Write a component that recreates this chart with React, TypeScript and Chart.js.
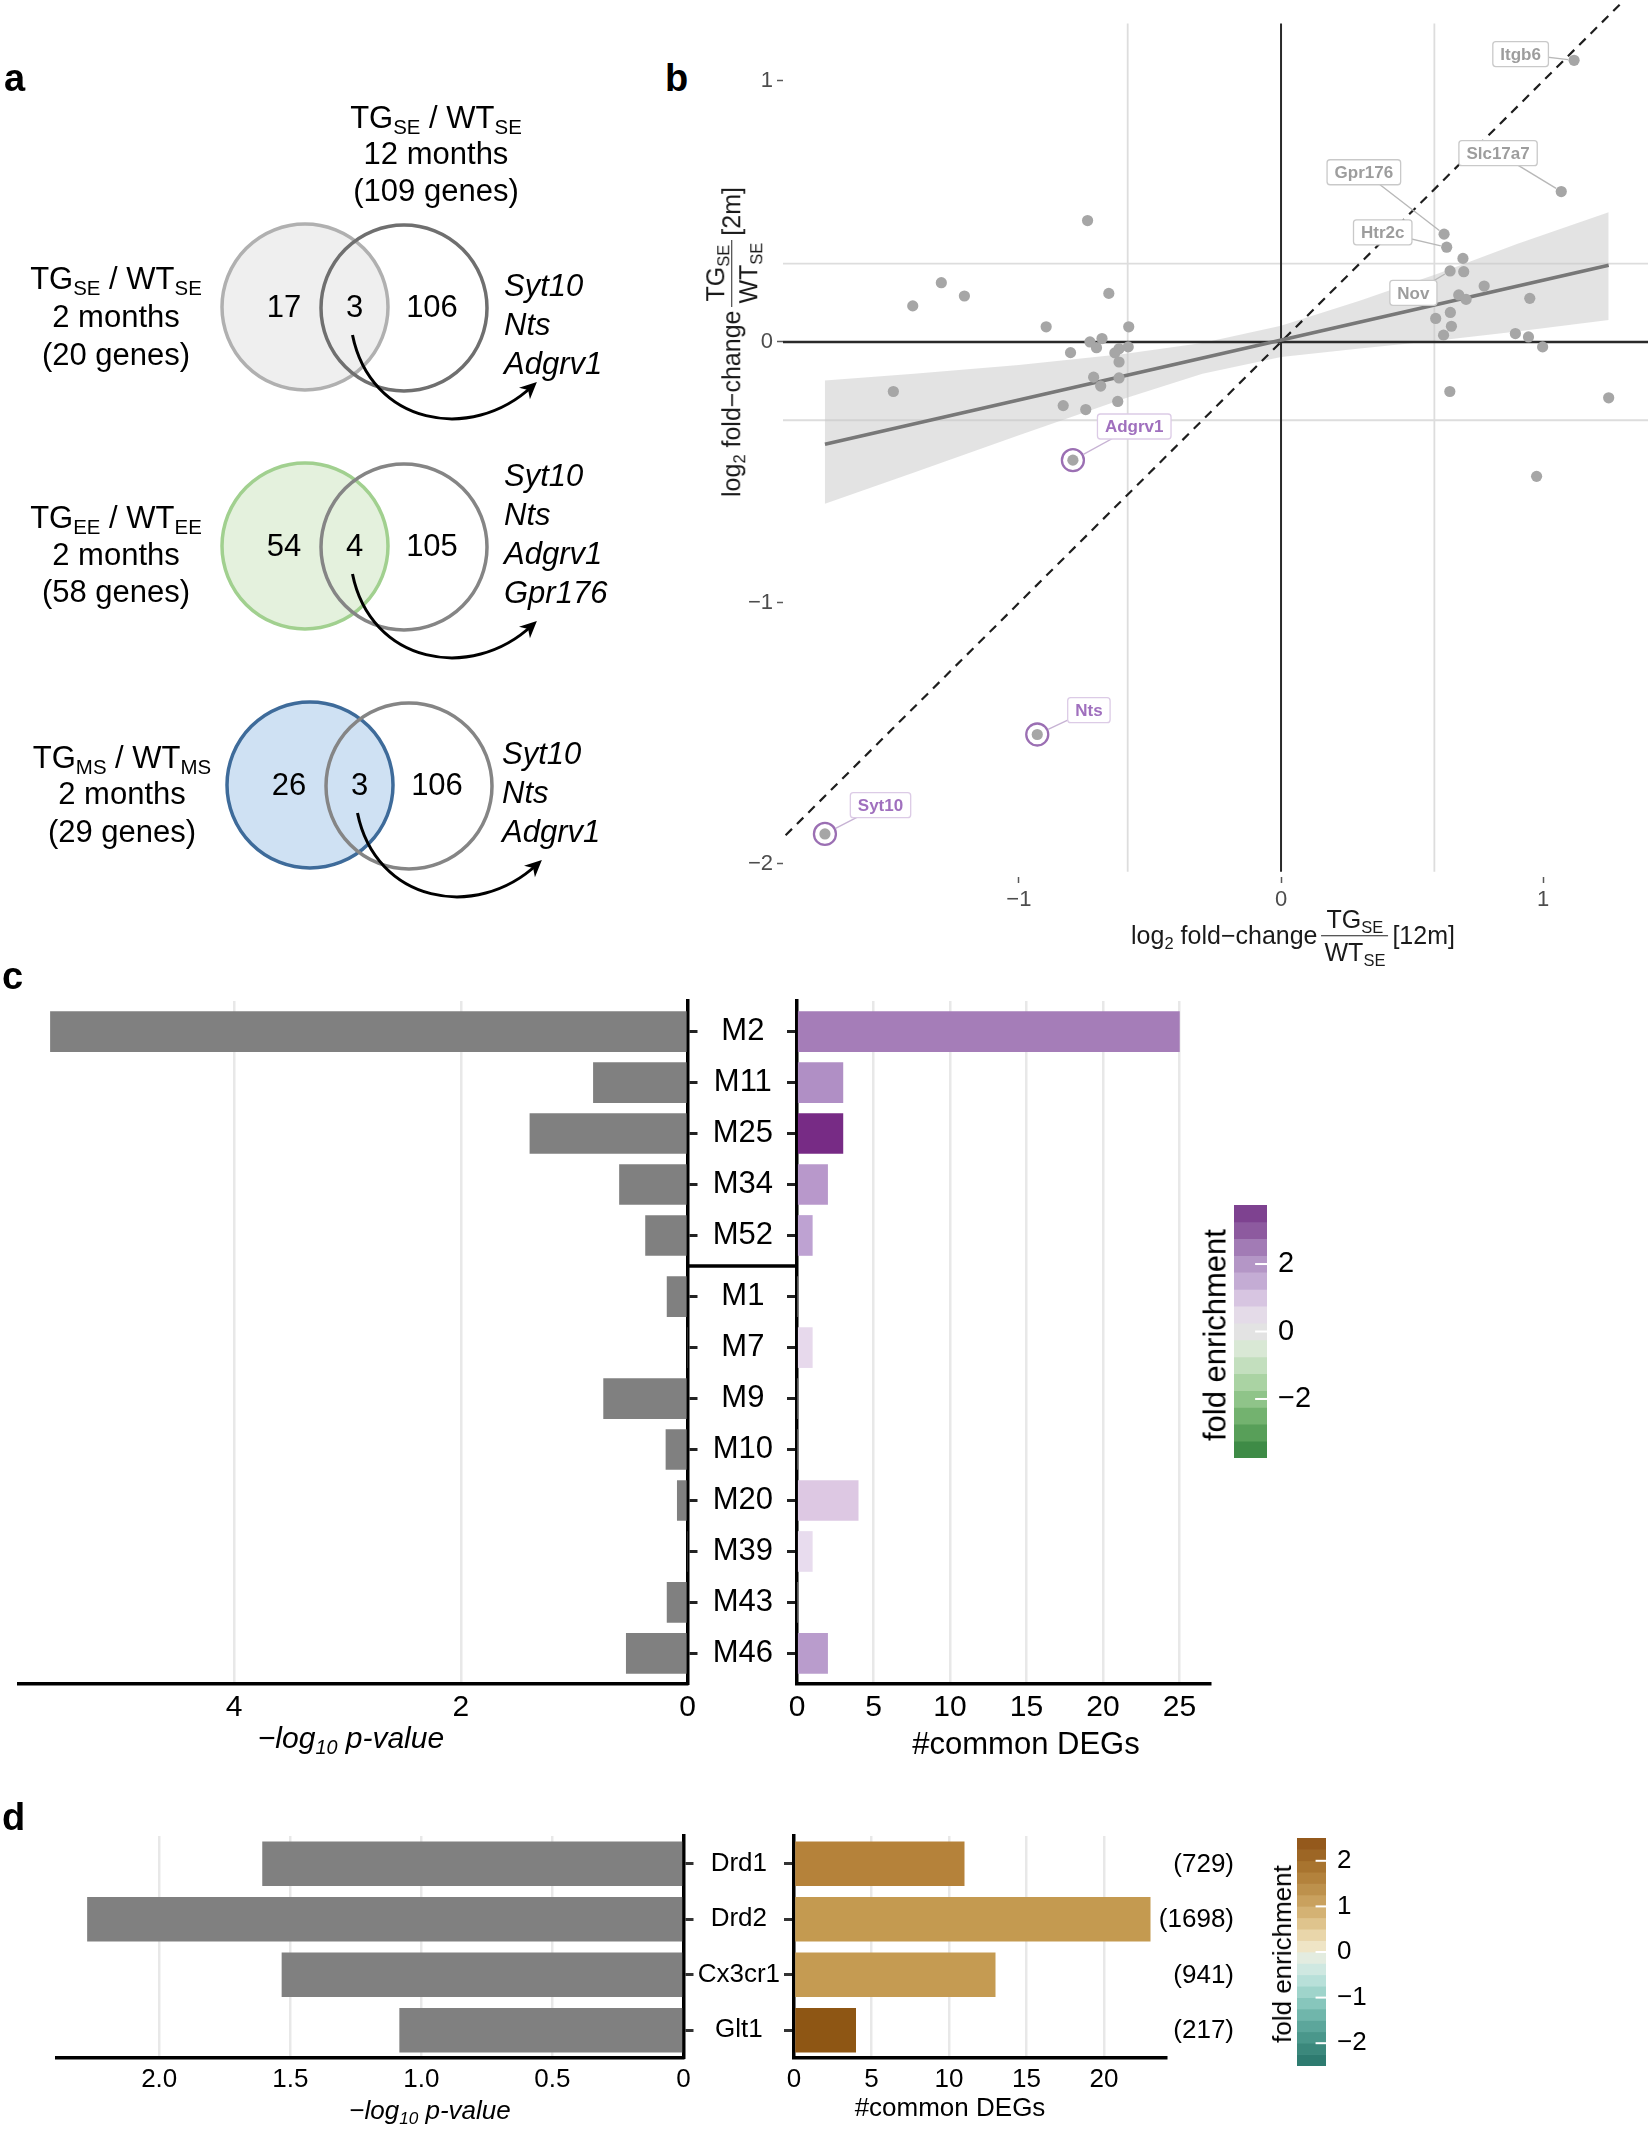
import React, { useEffect, useRef } from 'react';
import { Chart, registerables } from 'chart.js';

Chart.register(...registerables);

const SANS = "'Liberation Sans', Arial, Helvetica, sans-serif";
Chart.defaults.font.family = SANS;
const MINUS = '\u2212';

/* ---------------- panel a : Venn data ---------------- */
const vennGroups = ['SE', 'EE', 'MS'];
const vennMonths = [2, 2, 2];
const vennTotals = [20, 58, 29];
const vennOnlyLeft = [17, 54, 26];
const vennShared = [3, 4, 3];
const vennOnlyRight = [106, 105, 106];
const vennGenes = [
  ['Syt10', 'Nts', 'Adgrv1'],
  ['Syt10', 'Nts', 'Adgrv1', 'Gpr176'],
  ['Syt10', 'Nts', 'Adgrv1'],
];
const refGroup = 'SE';
const refMonths = 12;
const refTotal = 109;

/* ---------------- panel b : scatter data ---------------- */
const labelGenes = ['Itgb6', 'Slc17a7', 'Gpr176', 'Htr2c', 'Nov', 'Adgrv1', 'Nts', 'Syt10'];
const labelGeneX = [1.118, 1.069, 0.622, 0.632, 0.645, -0.794, -0.93, -1.74];
const labelGeneY = [1.079, 0.576, 0.413, 0.363, 0.272, -0.453, -1.504, -1.885];
const highlightedGenes = ['Adgrv1', 'Nts', 'Syt10'];
const otherGeneX = [
  0.694, 0.697, 0.775, 0.678, 0.706, 0.949, 0.59, 0.646, 0.65, 0.62, 0.894, 0.944, 0.998, 0.644, 1.25, 0.975,
  -0.738, -1.296, -1.208, -1.405, -0.657, -0.896, -0.581, -0.683, -0.729, -0.803, -0.704, -0.618, -0.583,
  -0.634, -0.618, -0.715, -0.688, -0.618, -1.479, -0.831, -0.745, -0.623,
];
const otherGeneY = [
  0.32, 0.269, 0.214, 0.18, 0.163, 0.167, 0.09, 0.113, 0.06, 0.026, 0.032, 0.019, -0.019, -0.19, -0.214, -0.515,
  0.465, 0.227, 0.176, 0.138, 0.186, 0.058, 0.058, 0.013, 0, -0.041, -0.022, -0.026, -0.019,
  -0.042, -0.077, -0.135, -0.169, -0.138, -0.19, -0.244, -0.259, -0.228,
];
const fitX = [-1.74, 1.25];
const fitY = [-0.392, 0.294];
const bandX = [-1.74, -1.4, -1.0, -0.6, -0.3, 0, 0.3, 0.6, 0.9, 1.25];
const bandUpper = [-0.148, -0.122, -0.088, -0.046, -0.004, 0.062, 0.158, 0.262, 0.375, 0.497];
const bandLower = [-0.62, -0.5, -0.358, -0.218, -0.122, -0.058, -0.025, 0.005, 0.04, 0.084];
const identityX = [-1.89, 1.31];
const foldThresholdX = [-0.585, 0.585];
const foldThresholdY = [-0.3, 0.3];
const xTicksB = [-1, 0, 1];
const yTicksB = [-2, -1, 0, 1];

/* ---------------- panel c : modules ---------------- */
const modules = ['M2', 'M11', 'M25', 'M34', 'M52', 'M1', 'M7', 'M9', 'M10', 'M20', 'M39', 'M43', 'M46'];
const moduleGroupSizes = [5, 8];
const modulePValue = [5.62, 0.83, 1.39, 0.6, 0.37, 0.18, 0, 0.74, 0.19, 0.09, 0, 0.18, 0.54];
const moduleCommonDEGs = [25, 3, 3, 2, 1, 0, 1, 0, 0, 4, 1, 0, 2];
const moduleFoldColor = ['#a57db8', '#b08fc5', '#772b85', '#b898cb', '#bea2d2', '#ffffff', '#e7d9ec',
  '#ffffff', '#ffffff', '#ddc8e3', '#e8dcee', '#ffffff', '#b99ccc'];
const pTicksC = [0, 2, 4];
const degTicksC = [0, 5, 10, 15, 20, 25];
const foldTicksC = [-2, 0, 2];

/* ---------------- panel d : cell types ---------------- */
const cellTypes = ['Drd1', 'Drd2', 'Cx3cr1', 'Glt1'];
const cellPValue = [1.607, 2.275, 1.533, 1.084];
const cellCommonDEGs = [11, 23, 13, 4];
const cellSetSize = [729, 1698, 941, 217];
const cellFoldColor = ['#b5823a', '#c49a50', '#c59b52', '#8e5614'];
const pTicksD = [0, 0.5, 1, 1.5, 2];
const degTicksD = [0, 5, 10, 15, 20];
const foldTicksD = [-2, -1, 0, 1, 2];

/* ---------------- colour-bar palettes (top to bottom) ---------------- */
const paletteC = ['#7e4290', '#8d5a9f', '#a27bb5', '#b496c6', '#c4acd4', '#d7c5e1', '#e4dbe8', '#e3e3e3',
  '#d9e8d5', '#c3dfbe', '#aad3a3', '#8fc489', '#73b26f', '#589f59', '#3e8b46'];
const paletteD = ['#94591c', '#9d6625', '#a8742f', '#b3823c', '#bd914c', '#c9a15e', '#d4b274', '#dfc48d',
  '#e9d6aa', '#efe5c6', '#e3ece0', '#cfe8e1', '#b8e0d9', '#9fd4cb', '#87c6bc', '#70b6ab', '#5ca69b',
  '#4a978b', '#3b887c', '#2e7b70'];

/* ---------------- layout constants (page pixels) ---------------- */
const VENN_CY = [307, 546, 785];
const VENN_CXL = [305, 305, 310];
const VENN_GAP = 99;
const VENN_R = 83;
const VENN_FILL = ['#efefef', '#e4f1dd', '#cfe1f3'];
const VENN_EDGE = ['#b0b0b0', '#a1d08f', '#3e6b9a'];
const VENN_REF_EDGE = ['#6f6f6f', '#858585', '#858585'];
const ARROW_SHAPE = [[-2, 28], [16, 117], [116, 137], [178, 79]];
const LABEL_BOX_X = [0.914, 0.828, 0.316, 0.388, 0.505, -0.56, -0.733, -1.528];
const LABEL_BOX_Y = [1.103, 0.723, 0.65, 0.42, 0.188, -0.324, -1.411, -1.775];

const fmtMinus = (v: number) => (v < 0 ? MINUS + String(Math.abs(v)) : String(v));
const setTicks = (vals: number[]) => (scale: any) => {
  scale.ticks = vals.map((v) => ({ value: v }));
};
const fixW = (w: number) => (s: any) => {
  s.width = w;
  s.paddingTop = 0;
  s.paddingBottom = 0;
};
const fixH = (h: number) => (s: any) => {
  s.height = h;
  s.paddingLeft = 0;
  s.paddingRight = 0;
};

/* ---------------- plugins ---------------- */
const arrowPlugin = {
  id: 'vennArrows',
  afterDatasetsDraw(chart: any) {
    const { ctx, scales } = chart;
    const x = scales.x;
    const y = scales.y;
    ctx.save();
    VENN_CY.forEach((cy, i) => {
      const mid = VENN_CXL[i] + VENN_GAP / 2;
      const p = ARROW_SHAPE.map(([dx, dy]) => [x.getPixelForValue(mid + dx), y.getPixelForValue(cy + dy)]);
      ctx.strokeStyle = '#000';
      ctx.lineWidth = 3;
      ctx.beginPath();
      ctx.moveTo(p[0][0], p[0][1]);
      ctx.bezierCurveTo(p[1][0], p[1][1], p[2][0], p[2][1], p[3][0], p[3][1]);
      ctx.stroke();
      const dx = p[3][0] - p[2][0];
      const dy = p[3][1] - p[2][1];
      const l = Math.hypot(dx, dy);
      const ux = dx / l;
      const uy = dy / l;
      const tx = p[3][0] + ux * 6;
      const ty = p[3][1] + uy * 6;
      ctx.fillStyle = '#000';
      ctx.beginPath();
      ctx.moveTo(tx, ty);
      ctx.lineTo(tx - ux * 17 - uy * 8, ty - uy * 17 + ux * 8);
      ctx.lineTo(tx - ux * 12, ty - uy * 12);
      ctx.lineTo(tx - ux * 17 + uy * 8, ty - uy * 17 - ux * 8);
      ctx.closePath();
      ctx.fill();
    });
    ctx.restore();
  },
};

const geneLabelPlugin = {
  id: 'geneLabels',
  afterDatasetsDraw(chart: any) {
    const { ctx, scales } = chart;
    const x = scales.x;
    const y = scales.y;
    ctx.save();
    ctx.font = `bold 17px ${SANS}`;
    labelGenes.forEach((name, i) => {
      const hl = highlightedGenes.includes(name);
      const px = x.getPixelForValue(labelGeneX[i]);
      const py = y.getPixelForValue(labelGeneY[i]);
      const bx = x.getPixelForValue(LABEL_BOX_X[i]);
      const by = y.getPixelForValue(LABEL_BOX_Y[i]);
      const w = ctx.measureText(name).width + 15;
      const h = 25;
      const dx = px - bx;
      const dy = py - by;
      const len = Math.hypot(dx, dy) || 1;
      const stop = hl ? 12 : 6;
      ctx.strokeStyle = hl ? '#c7b3d4' : '#b8b8b8';
      ctx.lineWidth = 1.4;
      ctx.beginPath();
      ctx.moveTo(bx, by);
      ctx.lineTo(px - (dx / len) * stop, py - (dy / len) * stop);
      ctx.stroke();
      ctx.fillStyle = '#ffffff';
      ctx.strokeStyle = hl ? '#dccbe6' : '#c9c9c9';
      ctx.lineWidth = 1.3;
      ctx.beginPath();
      if (ctx.roundRect) ctx.roundRect(bx - w / 2, by - h / 2, w, h, 3);
      else ctx.rect(bx - w / 2, by - h / 2, w, h);
      ctx.fill();
      ctx.stroke();
      ctx.fillStyle = hl ? '#a070be' : '#9d9d9d';
      ctx.textAlign = 'center';
      ctx.textBaseline = 'middle';
      ctx.fillText(name, bx, by + 1);
    });
    ctx.restore();
  },
};

const separatorPlugin = {
  id: 'facetSeparator',
  afterDraw(chart: any) {
    const { ctx, scales, chartArea } = chart;
    const yy = scales.y.getPixelForValue(moduleGroupSizes[0] + 0.2);
    ctx.save();
    ctx.strokeStyle = '#000';
    ctx.lineWidth = 3.5;
    ctx.beginPath();
    ctx.moveTo(0, yy);
    ctx.lineTo(chartArea.left, yy);
    ctx.stroke();
    ctx.restore();
  },
};

const setSizePlugin = {
  id: 'setSizes',
  afterDraw(chart: any) {
    const { ctx, scales, chartArea } = chart;
    ctx.save();
    ctx.font = `26px ${SANS}`;
    ctx.fillStyle = '#000';
    ctx.textAlign = 'right';
    ctx.textBaseline = 'middle';
    cellTypes.forEach((_, i) => {
      ctx.fillText(`(${cellSetSize[i]})`, chartArea.right + 68, scales.y.getPixelForValue(i) + 1);
    });
    ctx.restore();
  },
};

const whiteTickPlugin = {
  id: 'whiteTicks',
  afterDatasetsDraw(chart: any) {
    const { ctx, scales, chartArea } = chart;
    const w = chartArea.right - chartArea.left;
    ctx.save();
    ctx.strokeStyle = '#ffffff';
    ctx.lineWidth = 2;
    scales.y.ticks.forEach((t: any) => {
      const yy = scales.y.getPixelForValue(t.value);
      ctx.beginPath();
      ctx.moveTo(chartArea.right - w * 0.36, yy);
      ctx.lineTo(chartArea.right, yy);
      ctx.stroke();
    });
    ctx.restore();
  },
};

/* ---------------- chart configs ---------------- */
const baseOpts = () => ({
  responsive: true,
  maintainAspectRatio: false,
  animation: false,
  events: [],
  plugins: { legend: { display: false }, tooltip: { enabled: false }, title: { display: false } },
});

function vennConfig(): any {
  const datasets: any[] = [];
  VENN_CY.forEach((cy, i) => {
    datasets.push({
      data: [{ x: VENN_CXL[i] + VENN_GAP, y: cy + 1 }],
      pointRadius: VENN_R,
      pointBackgroundColor: 'rgba(0,0,0,0)',
      pointBorderColor: VENN_REF_EDGE[i],
      pointBorderWidth: 3.5,
      order: 0,
    });
    datasets.push({
      data: [{ x: VENN_CXL[i], y: cy }],
      pointRadius: VENN_R,
      pointBackgroundColor: VENN_FILL[i],
      pointBorderColor: VENN_EDGE[i],
      pointBorderWidth: 3.5,
      order: 1,
    });
  });
  return {
    type: 'scatter',
    data: { datasets },
    options: {
      ...baseOpts(),
      layout: { padding: 0, autoPadding: false },
      scales: {
        x: { type: 'linear', display: false, min: 0, max: 660 },
        y: { type: 'linear', display: false, min: 0, max: 940, reverse: true },
      },
    },
    plugins: [arrowPlugin],
  };
}

function scatterConfig(): any {
  const allX = [...labelGeneX, ...otherGeneX];
  const allY = [...labelGeneY, ...otherGeneY];
  const hl = labelGenes.map((g, i) => (highlightedGenes.includes(g) ? { x: labelGeneX[i], y: labelGeneY[i] } : null)).filter(Boolean);
  const lineDs = (data: any[], color: string, width: number, order: number, dash: number[] = []) => ({
    type: 'line',
    data,
    borderColor: color,
    borderWidth: width,
    borderDash: dash,
    pointRadius: 0,
    fill: false,
    order,
  });
  const datasets: any[] = [
    { type: 'line', data: hl, showLine: false, pointRadius: 11, pointBackgroundColor: 'rgba(0,0,0,0)', pointBorderColor: '#9b6fb3', pointBorderWidth: 2.3, order: 0 },
    { type: 'line', data: allX.map((v, i) => ({ x: v, y: allY[i] })), showLine: false, pointRadius: 5.6, pointBackgroundColor: '#a6a6a6', pointBorderWidth: 0, order: 1 },
    lineDs(fitX.map((v, i) => ({ x: v, y: fitY[i] })), '#787878', 3.5, 2),
    lineDs(identityX.map((v) => ({ x: v, y: v })), '#1e1e1e', 2.2, 3, [9, 7]),
    lineDs([{ x: 0, y: -2.03 }, { x: 0, y: 1.22 }], '#2a2a2a', 2, 4),
    lineDs([{ x: -1.9, y: 0 }, { x: 1.4, y: 0 }], '#2a2a2a', 2.4, 4),
    {
      type: 'line', data: bandX.map((v, i) => ({ x: v, y: bandUpper[i] })), borderColor: 'rgba(0,0,0,0)', pointRadius: 0,
      fill: '+1', backgroundColor: 'rgba(200,200,200,0.5)', order: 5,
    },
    { type: 'line', data: bandX.map((v, i) => ({ x: v, y: bandLower[i] })), borderColor: 'rgba(0,0,0,0)', pointRadius: 0, fill: false, order: 5 },
    ...foldThresholdX.map((t) => lineDs([{ x: t, y: -2.03 }, { x: t, y: 1.22 }], '#dddddd', 1.8, 6)),
    ...foldThresholdY.map((t) => lineDs([{ x: -1.9, y: t }, { x: 1.4, y: t }], '#dddddd', 1.8, 6)),
  ];
  const tickFont = { size: 22, family: SANS };
  return {
    type: 'line',
    data: { datasets },
    options: {
      ...baseOpts(),
      layout: { padding: { left: 0, right: 2, top: 0, bottom: 0 }, autoPadding: false },
      scales: {
        x: {
          type: 'linear', min: -1.9, max: 1.4,
          afterBuildTicks: setTicks(xTicksB),
          afterFit: fixH(83),
          ticks: { font: tickFont, color: '#4d4d4d', padding: 4, callback: (v: number) => fmtMinus(v) },
          grid: { display: true, drawOnChartArea: false, drawTicks: true, tickLength: 6, tickColor: '#5a5a5a', tickWidth: 1.5 },
          border: { display: false },
        },
        y: {
          type: 'linear', min: -2.05, max: 1.31,
          afterBuildTicks: setTicks(yTicksB),
          afterFit: fixW(93),
          ticks: { font: tickFont, color: '#4d4d4d', padding: 4, callback: (v: number) => fmtMinus(v) },
          grid: { display: true, drawOnChartArea: false, drawTicks: true, tickLength: 6, tickColor: '#5a5a5a', tickWidth: 1.5 },
          border: { display: false },
        },
      },
    },
    plugins: [geneLabelPlugin],
  };
}

const rowPos = modules.map((_, i) =>
  i < moduleGroupSizes[0] ? 0.6 + i : moduleGroupSizes[0] + 0.2 + 0.6 + (i - moduleGroupSizes[0]),
);
const rowMax = moduleGroupSizes[0] + 0.2 + moduleGroupSizes[1] + 0.2;

const gridColor = (ctx: any) => (ctx.tick && ctx.tick.value === 0 ? 'rgba(0,0,0,0)' : '#e8e8e8');

function moduleLeftConfig(): any {
  return {
    type: 'bar',
    data: {
      datasets: [{
        data: modules.map((_, i) => ({ x: modulePValue[i], y: rowPos[i] })),
        backgroundColor: '#808080', borderWidth: 0, barThickness: 40,
      }],
    },
    options: {
      ...baseOpts(),
      indexAxis: 'y',
      layout: { padding: { left: 18.7, top: 11, right: 0, bottom: 0 }, autoPadding: false },
      scales: {
        x: {
          type: 'linear', min: 0, max: 5.9, reverse: true,
          afterBuildTicks: setTicks(pTicksC),
          afterFit: fixH(86),
          ticks: { font: { size: 30 }, color: '#000', padding: 6 },
          grid: { color: gridColor, lineWidth: 2.5, drawTicks: false },
          border: { display: true, color: '#000', width: 3.5 },
        },
        y: {
          type: 'linear', position: 'right', min: 0, max: rowMax, reverse: true, offset: false,
          afterBuildTicks: setTicks(rowPos),
          afterFit: fixW(12.5),
          ticks: { display: false },
          grid: { offset: false, drawOnChartArea: false, drawTicks: true, tickLength: 10, tickColor: '#222', tickWidth: 3 },
          border: { display: true, color: '#000', width: 3.5 },
        },
      },
    },
  };
}

function moduleRightConfig(): any {
  return {
    type: 'bar',
    data: {
      datasets: [{
        data: modules.map((_, i) => ({ x: moduleCommonDEGs[i], y: rowPos[i] })),
        backgroundColor: moduleFoldColor, borderWidth: 0, barThickness: 40,
      }],
    },
    options: {
      ...baseOpts(),
      indexAxis: 'y',
      layout: { padding: { left: 0, top: 11, right: 17, bottom: 0 }, autoPadding: false },
      scales: {
        x: {
          type: 'linear', min: 0, max: 27,
          afterBuildTicks: setTicks(degTicksC),
          afterFit: fixH(86),
          ticks: { font: { size: 30 }, color: '#000', padding: 6 },
          grid: { color: gridColor, lineWidth: 2.5, drawTicks: false },
          border: { display: true, color: '#000', width: 3.5 },
        },
        y: {
          type: 'linear', position: 'left', min: 0, max: rowMax, reverse: true, offset: false,
          afterBuildTicks: setTicks(rowPos),
          afterFit: fixW(110),
          ticks: {
            font: { size: 31 }, color: '#000', padding: 14, crossAlign: 'center', autoSkip: false,
            callback: (_v: number, i: number) => modules[i],
          },
          grid: { offset: false, drawOnChartArea: false, drawTicks: true, tickLength: 10, tickColor: '#222', tickWidth: 3 },
          border: { display: true, color: '#000', width: 3.5 },
        },
      },
    },
    plugins: [separatorPlugin],
  };
}

function cellLeftConfig(): any {
  return {
    type: 'bar',
    data: {
      labels: cellTypes,
      datasets: [{ data: cellPValue, backgroundColor: '#808080', borderWidth: 0, barPercentage: 0.8, categoryPercentage: 1 }],
    },
    options: {
      ...baseOpts(),
      indexAxis: 'y',
      layout: { padding: { left: 57, top: 26, right: 0, bottom: 0 }, autoPadding: false },
      scales: {
        x: {
          type: 'linear', min: 0, max: 2.39, reverse: true,
          afterBuildTicks: setTicks(pTicksD),
          afterFit: fixH(75),
          ticks: { font: { size: 26 }, color: '#000', padding: 6, callback: (v: number) => (v === 0 ? '0' : v.toFixed(1)) },
          grid: { color: gridColor, lineWidth: 2.5, drawTicks: false },
          border: { display: true, color: '#000', width: 3.5 },
        },
        y: {
          type: 'category', position: 'right', offset: true,
          afterFit: fixW(16.5),
          ticks: { display: false },
          grid: { offset: false, drawOnChartArea: false, drawTicks: true, tickLength: 10, tickColor: '#333', tickWidth: 3 },
          border: { display: true, color: '#000', width: 3.5 },
        },
      },
    },
  };
}

function cellRightConfig(): any {
  return {
    type: 'bar',
    data: {
      labels: cellTypes,
      datasets: [{ data: cellCommonDEGs, backgroundColor: cellFoldColor, borderWidth: 0, barPercentage: 0.8, categoryPercentage: 1 }],
    },
    options: {
      ...baseOpts(),
      indexAxis: 'y',
      layout: { padding: { left: 0, top: 26, right: 77, bottom: 0 }, autoPadding: false },
      scales: {
        x: {
          type: 'linear', min: 0, max: 24,
          afterBuildTicks: setTicks(degTicksD),
          afterFit: fixH(75),
          ticks: { font: { size: 26 }, color: '#000', padding: 6 },
          grid: { color: gridColor, lineWidth: 2.5, drawTicks: false },
          border: { display: true, color: '#000', width: 3.5 },
        },
        y: {
          type: 'category', position: 'left', offset: true,
          afterFit: fixW(111),
          ticks: { font: { size: 26 }, color: '#000', padding: 4, crossAlign: 'center', autoSkip: false },
          grid: { offset: false, drawOnChartArea: false, drawTicks: true, tickLength: 10, tickColor: '#333', tickWidth: 3 },
          border: { display: true, color: '#000', width: 3.5 },
        },
      },
    },
    plugins: [setSizePlugin],
  };
}

function colorbarConfig(palette: string[], step: number, ticks: number[], fontSize: number, pad: any, yWidth: number): any {
  const n = palette.length;
  const half = (n * step) / 2;
  const datasets = palette.map((c, k) => {
    const top = half - k * step;
    return { data: [[top - step, top]], backgroundColor: c, borderWidth: 0, grouped: false, barPercentage: 1, categoryPercentage: 1 };
  });
  return {
    type: 'bar',
    data: { labels: ['fold'], datasets },
    options: {
      ...baseOpts(),
      layout: { padding: pad, autoPadding: false },
      scales: {
        x: { display: false },
        y: {
          type: 'linear', position: 'right', min: -half, max: half,
          afterBuildTicks: setTicks(ticks),
          afterFit: fixW(yWidth),
          ticks: { font: { size: fontSize }, color: '#000', padding: 11, callback: (v: number) => fmtMinus(v) },
          grid: { display: false, drawTicks: false },
          border: { display: false },
        },
      },
    },
    plugins: [whiteTickPlugin],
  };
}

/* ---------------- text helpers ---------------- */
const Sub = ({ children }: any) => (
  <span style={{ fontSize: '0.66em', position: 'relative', top: '0.3em' }}>{children}</span>
);

const T = ({ x, y, size, align = 'center', italic = false, bold = false, color = '#000', children }: any) => (
  <div
    style={{
      position: 'absolute', left: x, top: y, fontSize: size, lineHeight: 1, whiteSpace: 'nowrap',
      fontFamily: SANS, color, fontStyle: italic ? 'italic' : 'normal', fontWeight: bold ? 'bold' : 'normal',
      transform: `translate(${align === 'center' ? '-50%' : align === 'right' ? '-100%' : '0'}, -50%)`,
    }}
  >
    {children}
  </div>
);

const Ratio = ({ g }: any) => (
  <>
    TG<Sub>{g}</Sub> / WT<Sub>{g}</Sub>
  </>
);

const Frac = () => (
  <span style={{ display: 'inline-flex', flexDirection: 'column', alignItems: 'stretch', margin: '0 4px', lineHeight: 1.05 }}>
    <span style={{ textAlign: 'center', padding: '0 3px 3px' }}>TG<Sub>SE</Sub></span>
    <span style={{ textAlign: 'center', padding: '3px 3px 0', borderTop: '1.6px solid #222' }}>WT<Sub>SE</Sub></span>
  </span>
);

const AxisTitleB = ({ tag }: any) => (
  <span style={{ display: 'inline-flex', alignItems: 'center', fontSize: 25, color: '#1a1a1a', fontFamily: SANS, whiteSpace: 'nowrap' }}>
    <span>log<Sub>2</Sub> fold{'\u2212'}change</span>
    <Frac />
    <span>[{tag}]</span>
  </span>
);

const PTitle = () => (
  <i>
    {MINUS}log<Sub>10</Sub> p-value
  </i>
);

/* ---------------- component ---------------- */
export default function App() {
  const aRef = useRef<HTMLCanvasElement>(null);
  const bRef = useRef<HTMLCanvasElement>(null);
  const cLRef = useRef<HTMLCanvasElement>(null);
  const cRRef = useRef<HTMLCanvasElement>(null);
  const cCbRef = useRef<HTMLCanvasElement>(null);
  const dLRef = useRef<HTMLCanvasElement>(null);
  const dRRef = useRef<HTMLCanvasElement>(null);
  const dCbRef = useRef<HTMLCanvasElement>(null);

  useEffect(() => {
    const charts: Chart[] = [];
    const make = (r: any, cfg: any) => {
      if (r.current) charts.push(new Chart(r.current, cfg));
    };
    make(aRef, vennConfig());
    make(bRef, scatterConfig());
    make(cLRef, moduleLeftConfig());
    make(cRRef, moduleRightConfig());
    make(cCbRef, colorbarConfig(paletteC, 0.5, foldTicksC, 29, { left: 44, top: 25, bottom: 32, right: 0 }, 73));
    make(dLRef, cellLeftConfig());
    make(dRRef, cellRightConfig());
    make(dCbRef, colorbarConfig(paletteD, 0.25, foldTicksD, 26, { left: 47, top: 23, bottom: 19, right: 0 }, 44));
    return () => charts.forEach((c) => c.destroy());
  }, []);

  const box = (r: any, left: number, top: number, width: number, height: number) => (
    <div style={{ position: 'absolute', left, top, width, height }}>
      <canvas ref={r} style={{ display: 'block' }} />
    </div>
  );

  const vennLeftY = [[278, 316, 354], [517, 554, 591], [757, 793, 831]];
  const vennLeftX = [116, 116, 122];
  const geneTop = [285, 475, 753];
  const geneLeft = [504, 504, 502];

  return (
    <div style={{ position: 'absolute', left: 0, top: 0, width: 1650, height: 2133, background: '#fff', overflow: 'hidden', fontFamily: SANS }}>
      {box(aRef, 0, 0, 660, 940)}
      {box(bRef, 690, 0, 960, 960)}
      {box(cLRef, 0, 990, 700, 780)}
      {box(cRRef, 687, 990, 540, 780)}
      {box(cCbRef, 1190, 1180, 150, 310)}
      {box(dLRef, 0, 1810, 700, 323)}
      {box(dRRef, 683, 1810, 560, 323)}
      {box(dCbRef, 1250, 1815, 120, 270)}

      {/* panel letters */}
      <T x={4} y={78} size={38} align="left" bold>a</T>
      <T x={665} y={78} size={38} align="left" bold>b</T>
      <T x={2} y={976} size={38} align="left" bold>c</T>
      <T x={2} y={1817} size={38} align="left" bold>d</T>

      {/* panel a texts */}
      <T x={436} y={117} size={31}><Ratio g={refGroup} /></T>
      <T x={436} y={153} size={31}>{refMonths} months</T>
      <T x={436} y={190} size={31}>({refTotal} genes)</T>
      {vennGroups.map((g, i) => (
        <React.Fragment key={g}>
          <T x={vennLeftX[i]} y={vennLeftY[i][0]} size={31}><Ratio g={g} /></T>
          <T x={vennLeftX[i]} y={vennLeftY[i][1]} size={31}>{vennMonths[i]} months</T>
          <T x={vennLeftX[i]} y={vennLeftY[i][2]} size={31}>({vennTotals[i]} genes)</T>
          <T x={VENN_CXL[i] - 21} y={VENN_CY[i] - 1} size={31}>{vennOnlyLeft[i]}</T>
          <T x={VENN_CXL[i] + VENN_GAP / 2} y={VENN_CY[i] - 1} size={31}>{vennShared[i]}</T>
          <T x={VENN_CXL[i] + VENN_GAP + 28} y={VENN_CY[i] - 1} size={31}>{vennOnlyRight[i]}</T>
          {vennGenes[i].map((gene, k) => (
            <T key={gene} x={geneLeft[i]} y={geneTop[i] + k * 39} size={31} align="left" italic>{gene}</T>
          ))}
        </React.Fragment>
      ))}

      {/* panel b axis titles */}
      <div style={{ position: 'absolute', left: 1293, top: 936, transform: 'translate(-50%, -50%)' }}>
        <AxisTitleB tag="12m" />
      </div>
      <div style={{ position: 'absolute', left: 732, top: 342, transform: 'translate(-50%, -50%) rotate(-90deg)' }}>
        <AxisTitleB tag="2m" />
      </div>

      {/* panel c titles */}
      <T x={351} y={1738} size={30}><PTitle /></T>
      <T x={1026} y={1743} size={31}>#common DEGs</T>
      <div style={{ position: 'absolute', left: 1215, top: 1335, transform: 'translate(-50%, -50%) rotate(-90deg)', fontSize: 31, lineHeight: 1, whiteSpace: 'nowrap', fontFamily: SANS }}>
        fold enrichment
      </div>

      {/* panel d titles */}
      <T x={430} y={2110} size={26}><PTitle /></T>
      <T x={950} y={2107} size={26}>#common DEGs</T>
      <div style={{ position: 'absolute', left: 1282, top: 1954, transform: 'translate(-50%, -50%) rotate(-90deg)', fontSize: 26, lineHeight: 1, whiteSpace: 'nowrap', fontFamily: SANS }}>
        fold enrichment
      </div>
    </div>
  );
}
